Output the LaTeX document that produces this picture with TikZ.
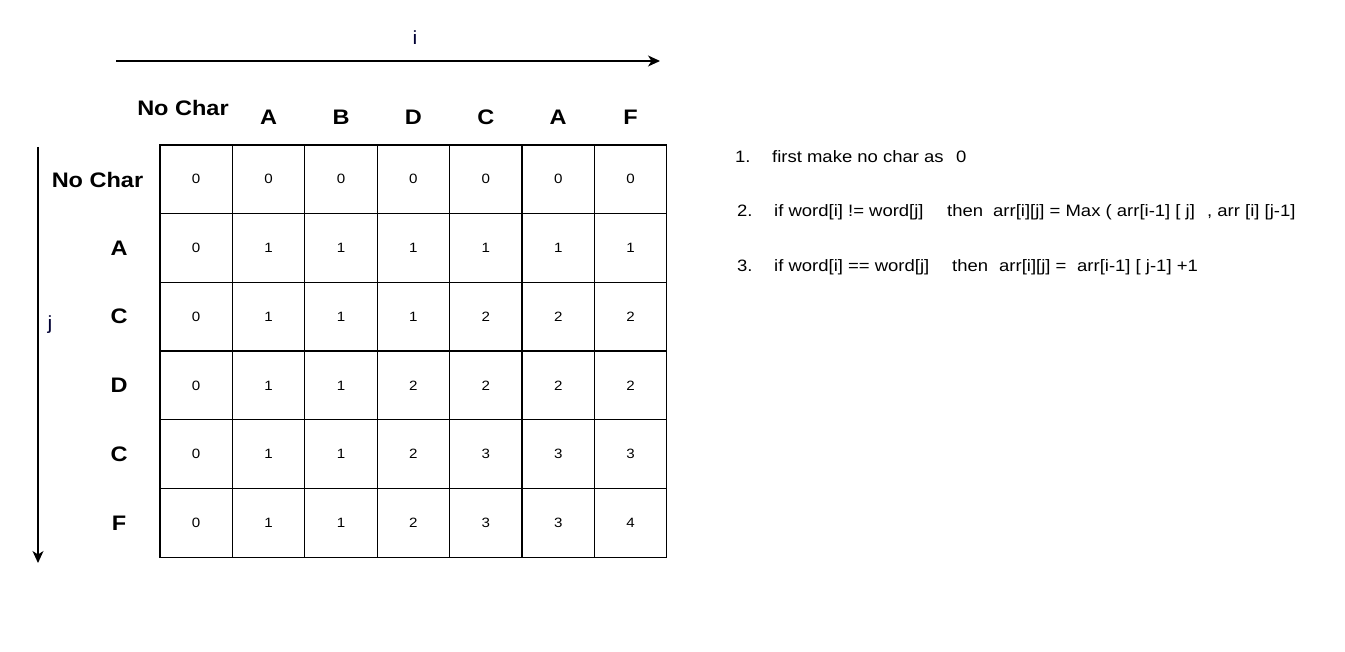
\documentclass[tikz,border=0pt]{standalone}
\usepackage{fontspec}
\setmainfont[FakeStretch=1.12]{Liberation Sans}
\usetikzlibrary{arrows.meta}
\begin{document}
\begin{tikzpicture}[x=1pt,y=-1pt,
  cell/.style={draw=black,line width=1.2pt,minimum width=72.4pt,minimum height=68.7pt,inner sep=0pt,font=\fontsize{13.5}{15}\selectfont},
  hdr/.style={font=\fontsize{21}{24}\selectfont\bfseries,inner sep=0pt},
  rule/.style={font=\fontsize{16.5}{20}\selectfont,inner sep=0pt,anchor=base west},
  axis/.style={line width=1.2pt,-{Stealth[length=12pt,width=11pt,inset=3.5pt]}},
  axlbl/.style={font=\fontsize{19}{20}\selectfont,inner sep=0pt,text=black!80!blue}]
\useasboundingbox[fill=white] (0,0) rectangle (1345,652);
% axes
\coordinate (ia) at (116,61);
\coordinate (ib) at (660,61);
\draw[axis] (ia) -- (ib);
\node[axlbl] (ilbl) at (415,38) {i};
\coordinate (ja) at (38,147);
\coordinate (jb) at (38,563);
\draw[axis] (ja) -- (jb);
\node[axlbl] (jlbl) at (50,325) {j};
% column headers
\node[hdr] (h0) at (183,108) {No Char};
\foreach \l [count=\k] in {A,B,D,C,A,F}{
  \node[hdr] (h\k) at ({196.2+72.4*\k},117) {\l};
}
% row headers
\node[hdr] (r0) at (97.5,180) {No Char};
\foreach \l [count=\k] in {A,C,D,C,F}{
  \node[hdr] (r\k) at (119,{179.3+68.7*\k}) {\l};
}
% cells
\foreach \row [count=\r from 0] in {{0,0,0,0,0,0,0},{0,1,1,1,1,1,1},{0,1,1,1,2,2,2},{0,1,1,2,2,2,2},{0,1,1,2,3,3,3},{0,1,1,2,3,3,4}}{
  \foreach \v [count=\c from 0] in \row {
    \node[cell] (c-\r-\c) at ({196.2+72.4*\c},{179.35+68.7*\r}) {\v};
  }
}
% rules
\node[rule] (n1) at (735,163) {1.};
\node[rule] (t1a) at (772,163) {first make no char as};
\node[rule] (t1b) at (956,163) {0};
\node[rule] (n2) at (737,217) {2.};
\node[rule] (t2a) at (774,217) {if word[i] != word[j]};
\node[rule] (t2b) at (947,217) {then};
\node[rule] (t2c) at (993,217) {arr[i][j] = Max ( arr[i-1] [ j]};
\node[rule] (t2d) at (1207,217) {, arr [i] [j-1]};
\node[rule] (n3) at (737,272) {3.};
\node[rule] (t3a) at (774,272) {if word[i] == word[j]};
\node[rule] (t3b) at (952,272) {then};
\node[rule] (t3c) at (999,272) {arr[i][j] =};
\node[rule] (t3d) at (1077,272) {arr[i-1] [ j-1] +1};
\end{tikzpicture}
\end{document}
